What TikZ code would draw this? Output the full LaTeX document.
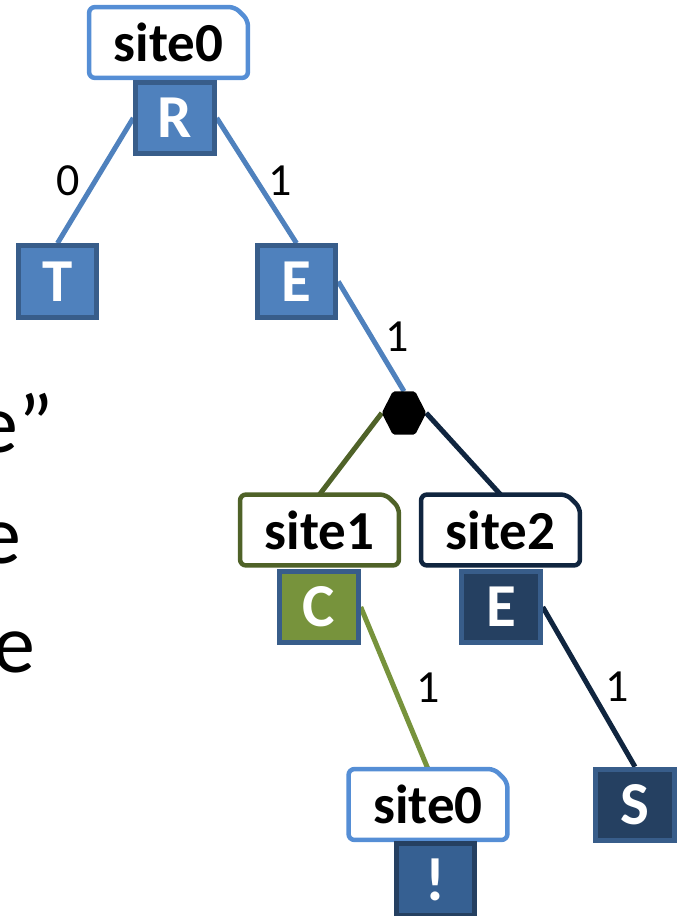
\documentclass[tikz,border=0pt]{standalone}
\usepackage{fontspec}
\setmainfont{Carlito}
\usetikzlibrary{calc}

\definecolor{boxblue}{HTML}{4F81BD}
\definecolor{boxedge}{HTML}{385D8A}
\definecolor{siteblue}{HTML}{558ED5}
\definecolor{olivedark}{HTML}{4F6228}
\definecolor{olive}{HTML}{77933C}
\definecolor{navyline}{HTML}{10253F}
\definecolor{navyfill}{HTML}{254061}
\definecolor{midblue}{HTML}{366092}

\pgfdeclarelayer{background}
\pgfsetlayers{background,main}

\newcommand\boldbig{\fontsize{55}{60}\selectfont\bfseries}
\newcommand\boldletter{\fontsize{61}{66}\selectfont\bfseries}
\newcommand\edgefont{\fontsize{46}{50}\selectfont}
\newcommand\sidefont{\fontsize{84}{90}\selectfont}

% chamfered frame around a site label node
\newcommand\siteframe[2]{%
  \draw[frameline, draw=#2] (#1.south west) -- (#1.north west)
    -- ([xshift=-13pt]#1.north east) -- ([yshift=-13pt]#1.north east)
    -- (#1.south east) -- cycle;}

\tikzset{
  letterbox/.style={rectangle, line width=5pt, minimum width=78.5pt,
    minimum height=71.5pt, inner sep=0pt, text=white, font=\boldletter},
  bluebox/.style={letterbox, fill=boxblue, draw=boxedge},
  greenbox/.style={letterbox, fill=olive, draw=boxedge},
  navybox/.style={letterbox, fill=navyfill, draw=boxedge},
  deepbox/.style={letterbox, fill=midblue, draw=navyfill},
  sitelabel/.style={rectangle, minimum width=158.5pt, minimum height=70.5pt,
    inner sep=0pt, font=\boldbig},
  frameline/.style={line width=4.5pt, rounded corners=6pt},
  conn/.style={line width=5pt},
  elabel/.style={font=\edgefont, inner sep=0pt},
  sidetext/.style={font=\sidefont, inner sep=0pt, anchor=base west},
}

\begin{document}
\begin{tikzpicture}[x=1pt, y=-1pt]
\useasboundingbox (0,0) rectangle (679,916);

% fragments of body text running in from the left
\node[sidetext] (txa) at (-24,452) {e”};
\node[sidetext] (txb) at (-21,563) {e};
\node[sidetext] (txc) at (-7,672) {e};

% site labels
\node[sitelabel] (siteA) at (168.5,42.5) {site0};
\node[sitelabel] (siteB) at (319.5,530) {site1};
\node[sitelabel] (siteC) at (500.5,530) {site2};
\node[sitelabel] (siteD) at (428,804.5) {site0};
\siteframe{siteA}{siteblue}
\siteframe{siteB}{olivedark}
\siteframe{siteC}{navyline}
\siteframe{siteD}{siteblue}

% letter boxes
\node[bluebox] (R) at (175,118) {R};
\node[bluebox] (T) at (57.5,281.5) {T};
\node[bluebox] (E) at (296.5,281.5) {E};
\node[greenbox] (C) at (319,607) {C};
\node[navybox] (E2) at (501,607) {E};
\node[deepbox] (X) at (435.5,879.5) {!};
\node[navybox] (S) at (635,805) {S};

% branching point
\node[rectangle, minimum width=44pt, minimum height=43pt, inner sep=0pt] (hex) at (404,413) {};
\fill[rounded corners=2pt] (hex.west) -- ([xshift=11pt]hex.north west)
  -- ([xshift=-11pt]hex.north east) -- (hex.east)
  -- ([xshift=-11pt]hex.south east) -- ([xshift=11pt]hex.south west) -- cycle;

% connectors
\begin{pgfonlayer}{background}
\draw[conn, boxblue] (R.west) -- node[elabel, xshift=-27pt, text=black] {0} (T.north);
\draw[conn, boxblue] (R.east) -- node[elabel, xshift=24pt, text=black] {1} (E.north);
\draw[conn, boxblue] (E.east) -- node[elabel, xshift=26pt, text=black] {1} (hex.north);
\draw[conn, olivedark] (hex.west) -- (siteB.north);
\draw[conn, navyline] (hex.east) -- (siteC.north);
\draw[conn, olive] (C.east) -- node[elabel, xshift=34pt, text=black] {1} (siteD.north);
\draw[conn, navyline] (E2.east) -- node[elabel, xshift=28pt, text=black] {1} (S.north);
\end{pgfonlayer}
\end{tikzpicture}
\end{document}
